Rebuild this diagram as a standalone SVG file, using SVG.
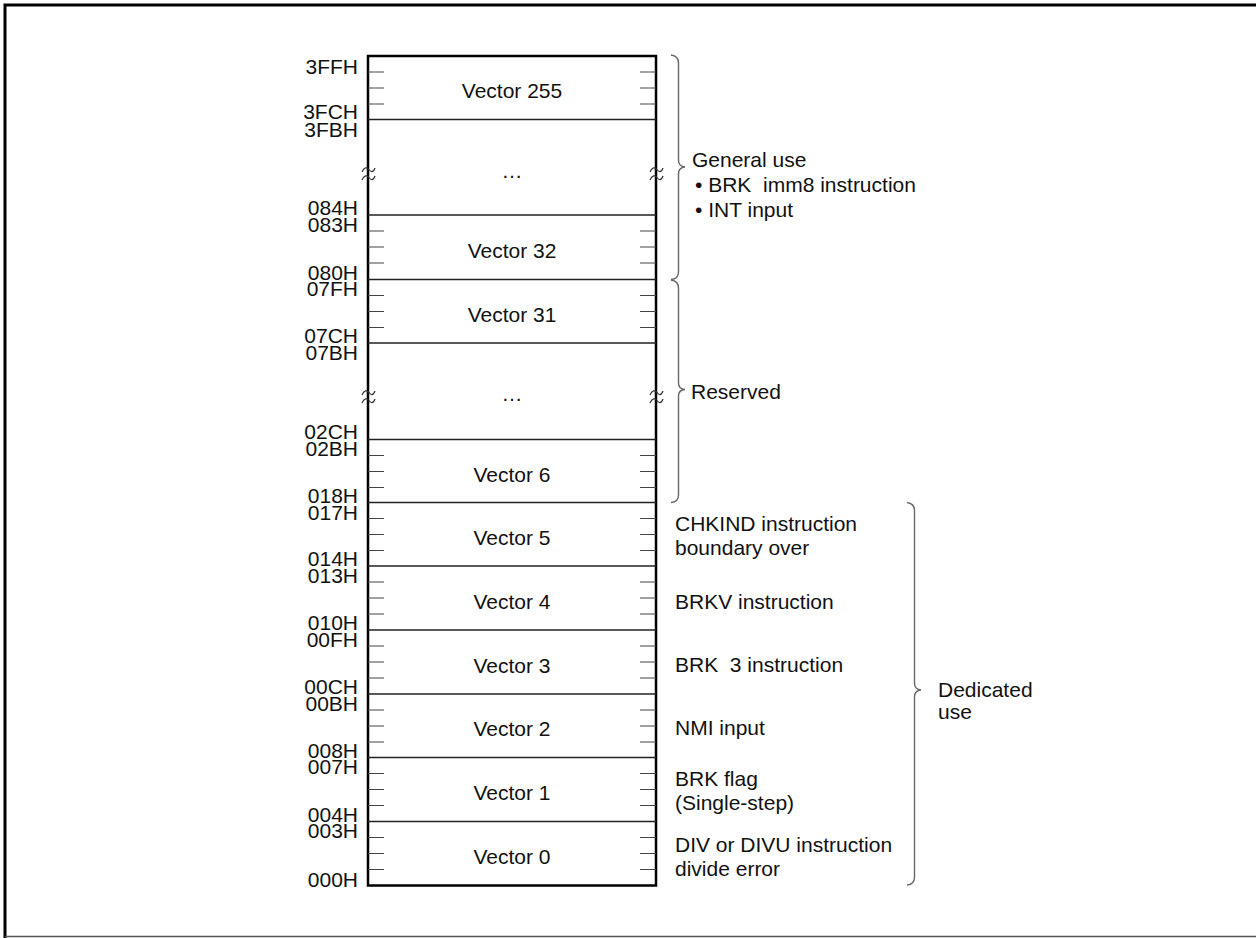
<svg xmlns="http://www.w3.org/2000/svg" width="1256" height="938" viewBox="0 0 1256 938">
<defs>
<style>
text{font-family:"Liberation Sans",Arial,sans-serif;font-size:21px;fill:#111;white-space:pre}
.addr{text-anchor:end}
.vec{text-anchor:middle}
.frame{fill:none;stroke:#000;stroke-width:2.5}
.row{stroke:#222;stroke-width:1.3}
.tick{stroke:#444;stroke-width:1.2}
.brace{fill:none;stroke:#666;stroke-width:1.4}
.brk{fill:none;stroke:#333;stroke-width:1.2}
</style>
</defs>
<rect width="1256" height="938" fill="#fff"/>
<g id="page-frame">
<path d="M5,938 V5 H1256" fill="none" stroke="#000" stroke-width="3"/>
<line x1="5" y1="936.5" x2="1256" y2="936.5" stroke="#555" stroke-width="1.5"/>
</g>
<g id="memory-map">
<rect class="frame" x="368" y="56" width="288" height="829.5" fill="#fff"/>
<g id="row-lines">
<line class="row" x1="368" y1="119.5" x2="656" y2="119.5"/>
<line class="row" x1="368" y1="215" x2="656" y2="215"/>
<line class="row" x1="368" y1="279.5" x2="656" y2="279.5"/>
<line class="row" x1="368" y1="343" x2="656" y2="343"/>
<line class="row" x1="368" y1="439.5" x2="656" y2="439.5"/>
<line class="row" x1="368" y1="502.5" x2="656" y2="502.5"/>
<line class="row" x1="368" y1="566" x2="656" y2="566"/>
<line class="row" x1="368" y1="630" x2="656" y2="630"/>
<line class="row" x1="368" y1="694" x2="656" y2="694"/>
<line class="row" x1="368" y1="757.5" x2="656" y2="757.5"/>
<line class="row" x1="368" y1="821.5" x2="656" y2="821.5"/>
</g>
<g id="ticks">
<path class="tick" d="M368,72H384M368,88H384M368,104H384M640,72H656M640,88H656M640,104H656"/>
<path class="tick" d="M368,231H384M368,247H384M368,263H384M640,231H656M640,247H656M640,263H656"/>
<path class="tick" d="M368,295.5H384M368,311.5H384M368,327.5H384M640,295.5H656M640,311.5H656M640,327.5H656"/>
<path class="tick" d="M368,455.5H384M368,471.5H384M368,487.5H384M640,455.5H656M640,471.5H656M640,487.5H656"/>
<path class="tick" d="M368,518.5H384M368,534.5H384M368,550.5H384M640,518.5H656M640,534.5H656M640,550.5H656"/>
<path class="tick" d="M368,582H384M368,598H384M368,614H384M640,582H656M640,598H656M640,614H656"/>
<path class="tick" d="M368,646H384M368,662H384M368,678H384M640,646H656M640,662H656M640,678H656"/>
<path class="tick" d="M368,710H384M368,726H384M368,742H384M640,710H656M640,726H656M640,742H656"/>
<path class="tick" d="M368,773.5H384M368,789.5H384M368,805.5H384M640,773.5H656M640,789.5H656M640,805.5H656"/>
<path class="tick" d="M368,837.5H384M368,853.5H384M368,869.5H384M640,837.5H656M640,853.5H656M640,869.5H656"/>
</g>
<g id="breaks">
<path class="brk" d="M362,172 C364,167 367,167 369,169.5 S373,173 375,168"/>
<path class="brk" d="M362,180 C364,175 367,175 369,177.5 S373,181 375,176"/>
<path class="brk" d="M650,172 C652,167 655,167 657,169.5 S661,173 663,168"/>
<path class="brk" d="M650,180 C652,175 655,175 657,177.5 S661,181 663,176"/>
<path class="brk" d="M362,395 C364,390 367,390 369,392.5 S373,396 375,391"/>
<path class="brk" d="M362,403 C364,398 367,398 369,400.5 S373,404 375,399"/>
<path class="brk" d="M650,395 C652,390 655,390 657,392.5 S661,396 663,391"/>
<path class="brk" d="M650,403 C652,398 655,398 657,400.5 S661,404 663,399"/>
</g>
</g>
<g id="vectors">
<text class="vec" x="512" y="98">Vector 255</text>
<text class="vec" x="512" y="178">…</text>
<text class="vec" x="512" y="257.5">Vector 32</text>
<text class="vec" x="512" y="321.5">Vector 31</text>
<text class="vec" x="512" y="401">…</text>
<text class="vec" x="512" y="481.5">Vector 6</text>
<text class="vec" x="512" y="544.5">Vector 5</text>
<text class="vec" x="512" y="608.5">Vector 4</text>
<text class="vec" x="512" y="672.5">Vector 3</text>
<text class="vec" x="512" y="736">Vector 2</text>
<text class="vec" x="512" y="800">Vector 1</text>
<text class="vec" x="512" y="864">Vector 0</text>
</g>
<g id="addresses">
<text class="addr" x="358" y="74">3FFH</text>
<text class="addr" x="358" y="119">3FCH</text>
<text class="addr" x="358" y="137">3FBH</text>
<text class="addr" x="358" y="214.5">084H</text>
<text class="addr" x="358" y="232">083H</text>
<text class="addr" x="358" y="279.5">080H</text>
<text class="addr" x="358" y="296">07FH</text>
<text class="addr" x="358" y="342.5">07CH</text>
<text class="addr" x="358" y="360">07BH</text>
<text class="addr" x="358" y="439">02CH</text>
<text class="addr" x="358" y="456">02BH</text>
<text class="addr" x="358" y="502.5">018H</text>
<text class="addr" x="358" y="520">017H</text>
<text class="addr" x="358" y="565.5">014H</text>
<text class="addr" x="358" y="583">013H</text>
<text class="addr" x="358" y="629.5">010H</text>
<text class="addr" x="358" y="647">00FH</text>
<text class="addr" x="358" y="693.5">00CH</text>
<text class="addr" x="358" y="711">00BH</text>
<text class="addr" x="358" y="757.5">008H</text>
<text class="addr" x="358" y="774">007H</text>
<text class="addr" x="358" y="821.5">004H</text>
<text class="addr" x="358" y="838">003H</text>
<text class="addr" x="358" y="887">000H</text>
</g>
<g id="general-use">
<path class="brace" d="M671,55 Q678.5,56 678.5,63 L678.5,160 Q678.5,166.5 685,167 Q678.5,167.5 678.5,174 L678.5,272 Q678.5,279 671,279.5"/>
<text x="692" y="167">General use</text>
<text x="695" y="192">• BRK  imm8 instruction</text>
<text x="695" y="217">• INT input</text>
</g>
<g id="reserved">
<path class="brace" d="M671,280 Q678.5,281 678.5,288 L678.5,383 Q678.5,389 685,389.5 Q678.5,390 678.5,396 L678.5,495 Q678.5,502 671,502.5"/>
<text x="691" y="399">Reserved</text>
</g>
<g id="dedicated">
<path class="brace" d="M907,502.5 Q914.5,503.5 914.5,510.5 L914.5,683 Q914.5,689.5 921,690 Q914.5,690.5 914.5,697 L914.5,877 Q914.5,884.5 907,885"/>
<text x="938" y="697">Dedicated</text>
<text x="938" y="719">use</text>
</g>
<g id="descriptions">
<text x="675" y="531">CHKIND instruction</text>
<text x="675" y="555">boundary over</text>
<text x="675" y="608.5">BRKV instruction</text>
<text x="675" y="672">BRK  3 instruction</text>
<text x="675" y="735">NMI input</text>
<text x="675" y="786">BRK flag</text>
<text x="675" y="810">(Single-step)</text>
<text x="675" y="852">DIV or DIVU instruction</text>
<text x="675" y="876">divide error</text>
</g>
</svg>
